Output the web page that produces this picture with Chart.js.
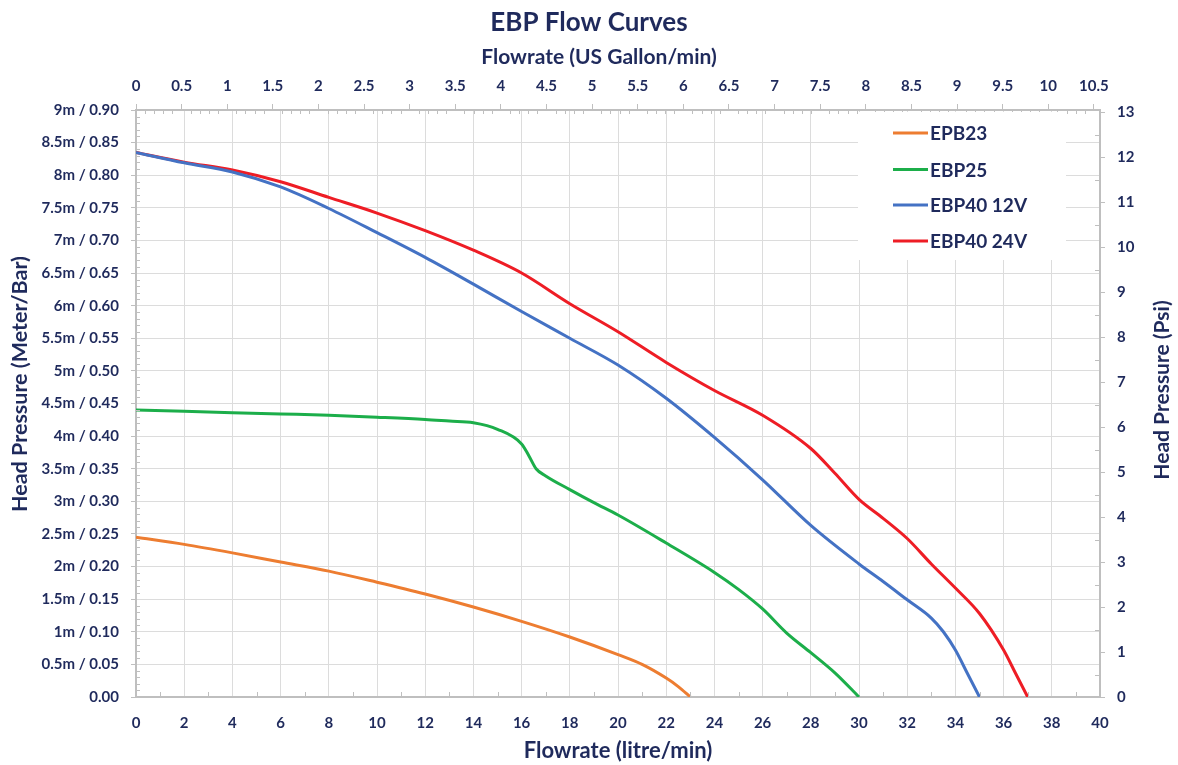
<!DOCTYPE html>
<html>
<head>
<meta charset="utf-8">
<title>EBP Flow Curves</title>
<script src="https://cdn.jsdelivr.net/npm/chart.js@4.4.1/dist/chart.umd.min.js"></script>
<style>
  html, body { margin: 0; padding: 0; background: #fff; }
  #wrap { width: 1178px; height: 765px; }
</style>
</head>
<body>
<div id="wrap"><canvas id="flow-chart" width="1178" height="765"></canvas></div>
<script>
"use strict";

// ── Data ─────────────────────────────────────────────────────────────

const LITRE_PER_GALLON = 3.78541;
const PSI_PER_BAR = 14.5038;

const SERIES_LABELS = ["EPB23", "EBP25", "EBP40 12V", "EBP40 24V"];
const SERIES_COLORS = ["#ed7d31", "#1cae4a", "#4472c4", "#ee1d25"];

// flow in litre/min, head in bar
const EPB23_FLOW = [0, 2, 4, 6, 8, 10, 12, 14, 16, 18, 20, 21, 22, 22.5, 23];
const EPB23_HEAD = [0.245, 0.234, 0.221, 0.207, 0.193, 0.176, 0.158, 0.138, 0.116, 0.092, 0.065, 0.05, 0.029, 0.016, 0];

const EBP25_FLOW = [0, 2, 4, 6, 8, 10, 12, 13, 14, 15, 16, 16.3, 16.6, 17, 18, 19, 20, 22, 24, 25, 26, 27, 28, 29, 30];
const EBP25_HEAD = [0.44, 0.438, 0.436, 0.434, 0.432, 0.429, 0.4255, 0.423, 0.4205, 0.4105, 0.388, 0.37, 0.35, 0.339, 0.318, 0.298, 0.279, 0.236, 0.191, 0.165, 0.135, 0.098, 0.068, 0.037, 0];

const EBP40_12V_FLOW = [0, 2, 4, 6, 8, 10, 12, 14, 16, 18, 20, 22, 24, 26, 28, 30, 31, 32, 33, 33.5, 34, 34.5, 35];
const EBP40_12V_HEAD = [0.835, 0.819, 0.805, 0.782, 0.749, 0.712, 0.674, 0.633, 0.591, 0.55, 0.509, 0.458, 0.398, 0.333, 0.263, 0.204, 0.177, 0.149, 0.121, 0.1, 0.072, 0.036, 0];

const EBP40_24V_FLOW = [0, 2, 4, 6, 8, 10, 12, 14, 16, 18, 20, 22, 24, 26, 28, 29, 30, 31, 32, 33, 34, 35, 36, 36.5, 37];
const EBP40_24V_HEAD = [0.835, 0.82, 0.808, 0.79, 0.766, 0.742, 0.715, 0.685, 0.65, 0.603, 0.56, 0.513, 0.47, 0.432, 0.381, 0.343, 0.303, 0.274, 0.243, 0.204, 0.167, 0.128, 0.072, 0.036, 0];

const FLOW_MAX_LITRE = 40;
const HEAD_MAX_BAR = 0.9;

// ── Styling ──────────────────────────────────────────────────────────

const NAVY = "#1f2a5c";
const GRID = "#dcdcdc";
const AXIS = "#bfbfbf";
const FONT = "Lato, 'Open Sans', sans-serif";
const TITLE_SIZE = 26;
const TITLE_PAD_TOP = 7;
const TITLE_BLOCK_H = TITLE_PAD_TOP + TITLE_SIZE * 1.2;

Chart.defaults.font.family = FONT;
Chart.defaults.font.weight = "bold";
Chart.defaults.color = NAVY;

function toPoints(flow, head) {
  return flow.map((x, i) => ({ x, y: head[i] }));
}

function headLabel(v) {
  const bar = Math.round(v * 100) / 100;
  if (bar === 0) return "0.00";
  const metres = Math.round(bar * 200) / 20;
  return `${metres}m / ${bar.toFixed(2)}`;
}

function rotatedText(ctx, text, x, y) {
  ctx.save();
  ctx.translate(x, y);
  ctx.rotate(-Math.PI / 2);
  ctx.fillText(text, 0, 0);
  ctx.restore();
}

// minor ticks, axis titles placed as in the original (off-centre, both
// side titles reading bottom-up) and the in-plot legend
const decorPlugin = {
  id: "decor",
  afterDatasetsDraw(chart) {
    const { ctx, chartArea: a, scales } = chart;
    ctx.save();
    ctx.strokeStyle = AXIS;
    ctx.lineWidth = 1;
    ctx.beginPath();
    // left: every 0.01 bar, inside
    for (let i = 1; i < 90; i++) {
      if (i % 5 === 0) continue;
      const y = Math.round(scales.y.getPixelForValue(i / 100)) + 0.5;
      ctx.moveTo(a.left, y); ctx.lineTo(a.left + 4, y);
    }
    // bottom: odd litres, inside
    for (let l = 1; l < FLOW_MAX_LITRE; l += 2) {
      const x = Math.round(scales.x.getPixelForValue(l)) + 0.5;
      ctx.moveTo(x, a.bottom); ctx.lineTo(x, a.bottom - 5);
    }
    // top: every 0.1 gallon, inside
    for (let g = 1; g <= 105; g++) {
      if (g % 5 === 0) continue;
      const x = Math.round(scales.x2.getPixelForValue(g / 10)) + 0.5;
      ctx.moveTo(x, a.top); ctx.lineTo(x, a.top + 4);
    }
    // right: half psi, inside
    for (let p = 0.5; p < 13; p += 1) {
      const y = Math.round(scales.y2.getPixelForValue(p)) + 0.5;
      ctx.moveTo(a.right, y); ctx.lineTo(a.right - 5, y);
    }
    ctx.stroke();

    ctx.fillStyle = NAVY;
    ctx.textAlign = "center";
    ctx.textBaseline = "middle";
    ctx.font = `bold 21px ${FONT}`;
    ctx.fillText("Flowrate (US Gallon/min)", 599, 57);
    rotatedText(ctx, "Head Pressure (Psi)", 1162, 390);
    ctx.font = `bold 21.5px ${FONT}`;
    rotatedText(ctx, "Head Pressure (Meter/Bar)", 20, 384);
    ctx.restore();

    // legend box
    ctx.save();
    ctx.fillStyle = "#fff";
    ctx.fillRect(858, a.top + 2, 208, 260 - a.top - 2);
    ctx.font = `bold 19px ${FONT}`;
    ctx.textAlign = "left";
    ctx.textBaseline = "middle";
    const rows = [133, 169.5, 205, 241];
    chart.data.datasets.forEach((ds, i) => {
      ctx.strokeStyle = ds.borderColor;
      ctx.lineWidth = 3;
      ctx.beginPath();
      ctx.moveTo(893, rows[i]); ctx.lineTo(928, rows[i]);
      ctx.stroke();
      ctx.fillStyle = NAVY;
      ctx.fillText(ds.label, 930, rows[i] + 1);
    });
    ctx.restore();
  },
};

const seriesFlow = [EPB23_FLOW, EBP25_FLOW, EBP40_12V_FLOW, EBP40_24V_FLOW];
const seriesHead = [EPB23_HEAD, EBP25_HEAD, EBP40_12V_HEAD, EBP40_24V_HEAD];

new Chart(document.getElementById("flow-chart"), {
  type: "line",
  data: {
    datasets: SERIES_LABELS.map((label, i) => ({
      label,
      data: toPoints(seriesFlow[i], seriesHead[i]),
      borderColor: SERIES_COLORS[i],
      backgroundColor: SERIES_COLORS[i],
      borderWidth: 3,
      pointRadius: 0,
      tension: 0.4,
      cubicInterpolationMode: "monotone",
      xAxisID: "x",
      yAxisID: "y",
    })),
  },
  plugins: [decorPlugin],
  options: {
    responsive: false,
    animation: false,
    devicePixelRatio: 1,
    layout: { padding: 0 },
    plugins: {
      legend: { display: false },
      tooltip: { enabled: false },
      title: {
        display: true,
        text: "EBP Flow Curves",
        color: NAVY,
        font: { size: TITLE_SIZE, weight: "bold" },
        padding: { top: TITLE_PAD_TOP, bottom: 0 },
      },
    },
    scales: {
      x: {
        type: "linear",
        position: "bottom",
        min: 0,
        max: FLOW_MAX_LITRE,
        ticks: { stepSize: 2, padding: 17, font: { size: 15 } },
        grid: { color: GRID, drawTicks: false },
        border: { color: AXIS, width: 2 },
        title: { display: true, text: "Flowrate (litre/min)", font: { size: 22 }, padding: { top: 0, bottom: 1 } },
        afterFit(s) { s.height = 765 - 697; },
      },
      x2: {
        type: "linear",
        position: "top",
        min: 0,
        max: FLOW_MAX_LITRE / LITRE_PER_GALLON,
        ticks: {
          stepSize: 0.5,
          includeBounds: false,
          padding: 9,
          font: { size: 15 },
          callback: (v) => String(Math.round(v * 10) / 10),
        },
        grid: { drawOnChartArea: false, color: AXIS, tickLength: 6 },
        border: { color: AXIS, width: 2 },
        afterFit(s) { s.height = 110 - TITLE_BLOCK_H; },
      },
      y: {
        type: "linear",
        position: "left",
        min: 0,
        max: HEAD_MAX_BAR,
        ticks: { stepSize: 0.05, padding: 12, font: { size: 15 }, callback: headLabel },
        grid: { color: GRID, tickLength: 5, tickColor: AXIS },
        border: { color: AXIS, width: 2 },
        afterFit(s) { s.width = 136; },
      },
      y2: {
        type: "linear",
        position: "right",
        min: 0,
        max: HEAD_MAX_BAR * PSI_PER_BAR,
        ticks: { stepSize: 1, includeBounds: false, padding: 12, font: { size: 15 } },
        grid: { drawOnChartArea: false, color: AXIS, tickLength: 5 },
        border: { color: AXIS, width: 2 },
        afterFit(s) { s.width = 1178 - 1100; },
      },
    },
  },
});
</script>
</body>
</html>
